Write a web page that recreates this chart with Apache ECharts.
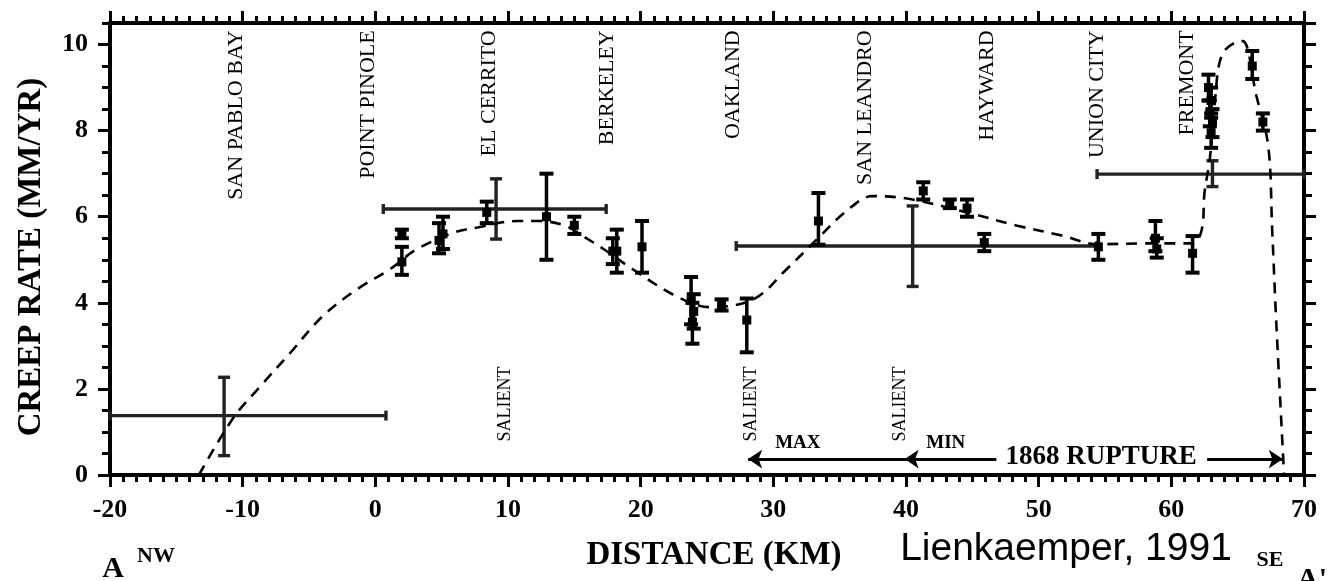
<!DOCTYPE html>
<html><head><meta charset="utf-8">
<script src="https://cdn.jsdelivr.net/npm/echarts@6/dist/echarts.min.js"></script>
<style>html,body{margin:0;padding:0;background:#fff}#c{width:1328px;height:581px}</style>
</head><body><div id="c"></div><script>
// ---- data ----
const towns = ['SAN PABLO BAY','POINT PINOLE','EL CERRITO','BERKELEY','OAKLAND','SAN LEANDRO','HAYWARD','UNION CITY','FREMONT'];
const townKm = [-10.5,-0.5,8.6,17.5,27.0,36.9,46.1,54.4,61.2];
const salientKm = [9.8, 28.3, 39.6];
// [km, rate, low, high]
const measured = [
  [2.0,5.6,5.5,5.7],[2.0,4.95,4.65,5.3],[4.8,5.45,5.15,5.85],[5.1,5.6,5.25,6.0],
  [8.4,6.1,5.85,6.35],[12.9,6.0,5.0,7.0],[15.0,5.8,5.6,6.0],[17.9,5.2,4.9,5.5],
  [18.2,5.2,4.7,5.7],[20.1,5.3,4.7,5.9],[23.8,4.05,3.5,4.6],[24.0,3.8,3.4,4.2],
  [23.9,3.55,3.05,4.0],[26.1,3.95,3.82,4.08],[28.0,3.6,2.85,4.1],[33.4,5.9,5.35,6.55],
  [41.3,6.6,6.4,6.8],[43.3,6.3,6.2,6.4],[44.6,6.2,6.0,6.4],[45.9,5.4,5.2,5.6],
  [54.5,5.3,5.0,5.6],[58.8,5.5,5.2,5.9],[58.9,5.25,5.05,5.5],[61.6,5.15,4.7,5.55],
  [62.8,9.0,8.7,9.3],[63.0,8.7,8.4,9.0],[62.9,8.4,8.1,8.7],[63.1,8.2,7.85,8.5],
  [63.0,7.95,7.6,8.3],[66.1,9.5,9.2,9.85],[66.9,8.2,8.0,8.4]
];
// [rate, kmFrom, kmTo, kmMid, rateLow, rateHigh]
const ranges = [
  [1.38,-20,0.8,-11.4,0.45,2.27],
  [6.18,0.6,17.4,9.1,5.48,6.88],
  [5.32,27.2,54.4,40.5,4.38,6.25],
  [6.99,54.4,70,63.1,6.7,7.3]
];
const curveKm   = [-13.3,-10.7,-8.7,-6.4,-4.0,-1.4,1.1,3.1,6.0,7.7,10.7,12.4,14.4,15.6,17.2,19.4,22.7,25.2,28.5,31.0,33.3,35.5,37.5,40.3,44.6,48.4,51.8,54.4,58.0,61.6,62.3,62.5,62.9,63.3,63.8,64.9,65.4,66.4,67.3,67.6,67.9,68.5];
const curveRate = [0,1.33,2.05,2.84,3.68,4.31,4.78,5.24,5.64,5.75,5.9,5.9,5.78,5.56,5.25,4.78,4.15,3.9,4.08,4.78,5.48,6.13,6.48,6.41,6.1,5.79,5.56,5.36,5.38,5.38,5.71,6.56,7.34,8.74,9.75,10.06,10.08,8.82,7.65,5.71,3.61,0];
const ruptureArrows = [[[46.8,0.37],[28.1,0.37]],[[46.8,0.37],[39.9,0.37]],[[62.7,0.37],[68.4,0.37]]];
const notes = [['MAX',31.85,0.75],['MIN',43.0,0.75]];
const rupture = [['1868 RUPTURE',54.7,0.42]];
const xMin=-20, xMax=70, yMin=0, yMax=10.5;

const SERIF = '"Liberation Serif","DejaVu Serif",serif';
const chart = echarts.init(document.getElementById('c'), null, {renderer:'canvas'});
const axLine = {show:true, onZero:false, lineStyle:{color:'#000', width:4}};
const lab = {fontFamily:SERIF, fontWeight:'bold', fontSize:26, color:'#000'};
function xAx(pos, showLab){
  return {type:'value', position:pos, min:xMin, max:xMax, interval:10,
    axisLine:axLine, splitLine:{show:false},
    axisTick:{show:true, length:12, lineStyle:{color:'#000', width:3}},
    minorTick:{show:true, splitNumber:10, length:7, lineStyle:{color:'#000', width:3}},
    axisLabel:Object.assign({show:showLab, margin:22}, lab)};
}
function yAx(pos, major, showLab){
  return {type:'value', position:pos, min:yMin, max:yMax, interval: major?2:0.5,
    axisLine: major?axLine:{show:false, onZero:false}, splitLine:{show:false},
    axisTick:{show:true, length: major?12:8, lineStyle:{color:'#000', width:3}},
    axisLabel:Object.assign({show:showLab, margin:22, showMaxLabel:false}, lab)};
}
const hiddenSym = {symbolSize:0, itemStyle:{color:'#fff', opacity:1}};
function textSeries(data, labelOpt){
  return Object.assign({type:'scatter', data:data, silent:true, z:5,
    label:Object.assign({show:true, position:[0,0], formatter:p=>p.data[2], color:'#000', fontFamily:SERIF}, labelOpt)}, hiddenSym);
}

chart.setOption({
  animation:false,
  grid:{left:110, right:24, top:23, bottom:106, containLabel:false},
  xAxis:[xAx('bottom',true), xAx('top',false)],
  yAxis:[yAx('left',true,true), yAx('left',false,false), yAx('right',true,false), yAx('right',false,false)],
  series:[
    {type:'line', data:curveKm.map((k,i)=>[k,curveRate[i]]), smooth:0.35,
     showSymbol:false, lineStyle:{color:'#000', width:2.6, type:[11,8]}, z:3, silent:true},
    {type:'custom', data:ranges, encode:{x:[1,2], y:0}, z:2, silent:true,
     renderItem:(p,api)=>{
       const y=api.value(0), a=api.coord([api.value(1),y]), b=api.coord([api.value(2),y]);
       const m=api.value(3), c=api.coord([m,api.value(4)]), d=api.coord([m,api.value(5)]);
       const st={stroke:'#222', lineWidth:3.4};
       return {type:'group', children:[
         {type:'line', shape:{x1:a[0],y1:a[1],x2:b[0],y2:b[1]}, style:st},
         {type:'line', shape:{x1:b[0],y1:b[1]-5,x2:b[0],y2:b[1]+5}, style:st},
         {type:'line', shape:{x1:a[0],y1:a[1]-5,x2:a[0],y2:a[1]+5}, style:st},
         {type:'line', shape:{x1:c[0],y1:c[1],x2:d[0],y2:d[1]}, style:st},
         {type:'line', shape:{x1:c[0]-6,y1:c[1],x2:c[0]+6,y2:c[1]}, style:st},
         {type:'line', shape:{x1:d[0]-6,y1:d[1],x2:d[0]+6,y2:d[1]}, style:st}
       ]};
     }},
    {type:'custom', data:measured, encode:{x:0, y:1}, z:4, silent:true,
     renderItem:(p,api)=>{
       const x=api.value(0), c=api.coord([x,api.value(1)]), a=api.coord([x,api.value(2)]), b=api.coord([x,api.value(3)]);
       const w=7, st={stroke:'#000', lineWidth:3.5};
       return {type:'group', children:[
         {type:'line', shape:{x1:a[0],y1:a[1],x2:b[0],y2:b[1]}, style:st},
         {type:'line', shape:{x1:a[0]-w,y1:a[1],x2:a[0]+w,y2:a[1]}, style:{stroke:'#000', lineWidth:4}},
         {type:'line', shape:{x1:b[0]-w,y1:b[1],x2:b[0]+w,y2:b[1]}, style:{stroke:'#000', lineWidth:4}},
         {type:'rect', shape:{x:c[0]-4.5,y:c[1]-4.5,width:9,height:9}, style:{fill:'#000'}}
       ]};
     }},
    {type:'lines', coordinateSystem:'cartesian2d', symbol:['none','arrow'], symbolSize:14,
     lineStyle:{color:'#000', width:3, opacity:1}, data:ruptureArrows.map(c=>({coords:c})), silent:true, z:3},
    textSeries(towns.map((n,i)=>[townKm[i],10.33,n]), {rotate:90, align:'right', verticalAlign:'middle', fontSize:22}),
    textSeries(salientKm.map(k=>[k,0.78,'SALIENT']), {rotate:90, align:'left', verticalAlign:'middle', fontSize:18}),
    textSeries(notes.map(n=>[n[1],n[2],n[0]]), {align:'center', verticalAlign:'middle', fontWeight:'bold', fontSize:19}),
    textSeries(rupture.map(n=>[n[1],n[2],n[0]]), {align:'center', verticalAlign:'middle', fontWeight:'bold', fontSize:27, backgroundColor:'#fff', padding:[0,4]})
  ],
  graphic:[
    {type:'text', x:31, y:257, rotation:Math.PI/2, style:{text:'CREEP RATE (MM/YR)', font:'bold 33px '+SERIF, fill:'#000', textAlign:'center', textVerticalAlign:'middle'}},
    {type:'text', x:714, y:555, style:{text:'DISTANCE (KM)', font:'bold 33px '+SERIF, fill:'#000', textAlign:'center', textVerticalAlign:'middle'}},
    {type:'text', x:113, y:569, style:{text:'A', font:'bold 30px '+SERIF, fill:'#000', textAlign:'center', textVerticalAlign:'middle'}},
    {type:'text', x:156, y:556, style:{text:'NW', font:'bold 22px '+SERIF, fill:'#000', textAlign:'center', textVerticalAlign:'middle'}},
    {type:'text', x:1066, y:549, style:{text:'Lienkaemper, 1991', font:'39px "Liberation Sans",Arial,sans-serif', fill:'#000', textAlign:'center', textVerticalAlign:'middle'}},
    {type:'text', x:1270, y:560, style:{text:'SE', font:'bold 22px '+SERIF, fill:'#000', textAlign:'center', textVerticalAlign:'middle'}},
    {type:'text', x:1297, y:580, style:{text:"A'", font:'bold 30px '+SERIF, fill:'#000', textAlign:'left', textVerticalAlign:'middle'}}
  ]
});
</script></body></html>
